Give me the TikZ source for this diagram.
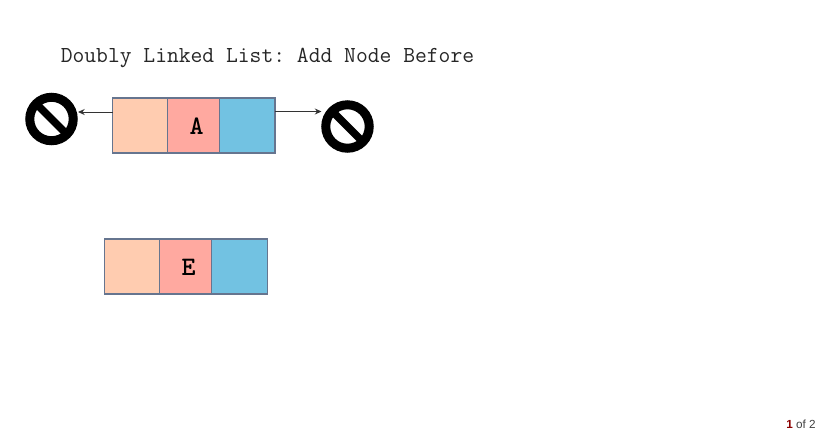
\documentclass[tikz,border=0pt]{standalone}
\usepackage{fontspec}
\setmainfont{Liberation Sans}
\usetikzlibrary{arrows.meta}
\definecolor{cellpeach}{HTML}{FFCCB0}
\definecolor{cellred}{HTML}{FFA9A0}
\definecolor{cellblue}{HTML}{72C2E2}
\definecolor{celledge}{HTML}{66758F}
\definecolor{arrowgray}{HTML}{333333}
\definecolor{pagered}{HTML}{8B0000}
\tikzset{
  cell/.style={draw=celledge,line width=0.8pt,minimum height=41.25pt,inner sep=0pt,outer sep=0pt,anchor=center},
  nullring/.style={circle,draw=black,line width=6.75pt,minimum size=32.6pt,inner sep=0pt,outer sep=3.37pt,fill=white},
  nullbar/.style={draw=black,line width=5.6pt},
  link/.style={draw=arrowgray,line width=0.75pt,-{Stealth[length=5pt,width=4.5pt]}},
  celltext/.style={font=\ttfamily\bfseries\fontsize{20}{20}\selectfont,text=black}
}
\begin{document}
\begin{tikzpicture}[x=0.75pt,y=-0.75pt]
\useasboundingbox (0,0) rectangle (819,433);
\node[font=\ttfamily\fontsize{17.2}{20}\selectfont,anchor=base west,inner sep=0pt,text=black!85] (title) at (60.5,62) {\frenchspacing Doubly Linked List: Add Node Before};

% node A
\node[cell,fill=cellpeach,minimum width=41.6pt] (a1) at (140.25,125.5) {};
\node[cell,fill=cellblue,minimum width=41.6pt] (a3) at (247.25,125.5) {};
\node[cell,fill=cellred,minimum width=39pt] (a2) at (193.75,125.5) {};
\node[celltext,inner sep=0pt] (a2t) at (196.5,126.5) {A};

% node E
\node[cell,fill=cellpeach,minimum width=41.6pt] (e1) at (132,266.5) {};
\node[cell,fill=cellblue,minimum width=41.6pt] (e3) at (239.5,266.5) {};
\node[cell,fill=cellred,minimum width=39pt] (e2) at (185.75,266.5) {};
\node[celltext,inner sep=0pt] (e2t) at (188.5,267.5) {E};

% null markers
\node[nullring] (nl) at (51.5,119) {};
\draw[nullbar] (nl.center) ++(-15,-15) -- ++(30,30);
\node[nullring] (nr) at (347.5,126.5) {};
\draw[nullbar] (nr.center) ++(-15,-15) -- ++(30,30);

% connectors
\coordinate (al) at (a1.west |- 0,112);
\coordinate (nlp) at (78,112);
\coordinate (ar) at (a3.east |- 0,111.5);
\coordinate (nrp) at (321.5,111.5);
\draw[link] (al) -- (nlp);
\draw[link] (ar) -- (nrp);

\node[anchor=base east,inner sep=0pt,font=\fontsize{8.8}{10}\selectfont,text=black!75] (pg) at (816,428) {\textbf{\textcolor{pagered}{1}} of 2};
\end{tikzpicture}
\end{document}
